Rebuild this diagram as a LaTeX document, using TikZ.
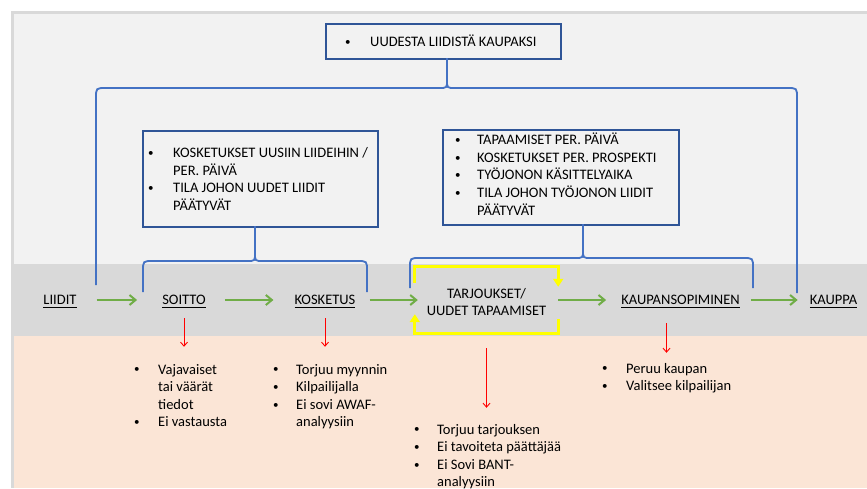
\documentclass[tikz,border=0pt]{standalone}
\usepackage{fontspec}
\setmainfont{Carlito}
\usetikzlibrary{arrows.meta}

\definecolor{bgtop}{HTML}{F2F2F2}
\definecolor{band}{HTML}{D9D9D9}
\definecolor{peach}{HTML}{FBE5D6}
\definecolor{boxblue}{HTML}{2F5597}
\definecolor{braceblue}{HTML}{4472C4}
\definecolor{flowgreen}{HTML}{70AD47}
\definecolor{failred}{HTML}{FF0000}
\definecolor{loopyellow}{HTML}{FFFF00}

% underlined stage label
\newcommand\undl[1]{\setbox0\hbox{#1}\rlap{\rule[-3.4pt]{\wd0}{1.1pt}}\box0}
% small list bullet
\newcommand\bul{\raisebox{1.2pt}{\fontsize{11}{11}\selectfont •}}

% curly brace: left x, right x, bar y, tip x, stem top y, left foot y, right foot y
\newcommand\hbrc[7]{%
  \draw[brace] (#1,#6) -- (#1,#3+10) .. controls (#1,#3) .. (#1+10,#3)
     -- (#4-8,#3) .. controls (#4,#3) .. (#4,#3-8) -- (#4,#5);
  \draw[brace] (#2,#7) -- (#2,#3+10) .. controls (#2,#3) .. (#2-10,#3)
     -- (#4+8,#3) .. controls (#4,#3) .. (#4,#3-8);
}

\begin{document}
\begin{tikzpicture}[x=1pt,y=-1pt,
  every node/.style={font=\fontsize{14.5}{17.6}\selectfont, inner sep=0pt, text=black},
  metricbox/.style={draw=boxblue, line width=2pt, anchor=north west},
  stage/.style={text height=9.4pt, text depth=0pt},
  bullets/.style={anchor=base west},
  flow/.style={draw=flowgreen, line width=2pt, -{Straight Barb[length=6pt,width=10pt]}},
  fail/.style={draw=failred, line width=0.9pt, -{Straight Barb[length=4pt,width=7pt]}},
  loop/.style={draw=loopyellow, line width=3pt, -{Triangle[length=8pt,width=10pt]}},
  brace/.style={draw=braceblue, line width=1.8pt},
]
% background frame and bands
\fill[white] (0,0) rectangle (867,488);
\fill[band] (11,11) rectangle (867,488);
\fill[bgtop] (14,14) rectangle (867,264);
\fill[band] (14,264) rectangle (867,336);
\fill[peach] (14,336) rectangle (867,488);
\useasboundingbox (0,0) rectangle (867,488);

% metric boxes
\node[metricbox, line width=2.4pt, minimum width=235pt, minimum height=35pt] (goal) at (325,23) {};
\node[bullets] (goaltxt) at (345,46.5)
  {\begin{tabular}[t]{@{}p{25pt}@{}l@{}}\bul&UUDESTA LIIDISTÄ KAUPAKSI\end{tabular}};

\node[metricbox, minimum width=235pt, minimum height=96pt] (boxB) at (142,130) {};
\node[bullets] (txtB) at (148,157.7)
  {\begin{tabular}[t]{@{}p{25pt}@{}l@{}}
   \bul&KOSKETUKSET UUSIIN LIIDEIHIN /\\
    &PER. PÄIVÄ\\
   \bul&TILA JOHON UUDET LIIDIT\\
    &PÄÄTYVÄT
   \end{tabular}};

\node[metricbox, minimum width=236pt, minimum height=95pt] (boxC) at (442,129) {};
\node[bullets] (txtC) at (455,144.7)
  {\begin{tabular}[t]{@{}p{22pt}@{}l@{}}
   \bul&TAPAAMISET PER. PÄIVÄ\\
   \bul&KOSKETUKSET PER. PROSPEKTI\\
   \bul&TYÖJONON KÄSITTELYAIKA\\
   \bul&TILA JOHON TYÖJONON LIIDIT\\
    &PÄÄTYVÄT
   \end{tabular}};

% braces
\hbrc{96}{797}{88}{447}{58}{285}{293}
\hbrc{143}{367}{261}{255}{226}{292}{292}
\hbrc{410}{753}{258}{583}{224}{288}{288}

% stages
\node[stage] (liidit) at (60,300) {\undl{LIIDIT}};
\node[stage] (soitto) at (184,300) {\undl{SOITTO}};
\node[stage] (kosketus) at (325,300) {\undl{KOSKETUS}};
\node[minimum width=143pt, minimum height=66pt] (tarjous) at (486.5,300) {};
\node[align=center] (tarjtxt) at (486.5,302) {TARJOUKSET/\\UUDET TAPAAMISET};
\node[stage] (kaupso) at (680.5,300) {\undl{KAUPANSOPIMINEN}};
\node[stage] (kauppa) at (833.5,300) {\undl{KAUPPA}};

% flow arrows
\draw[flow, shorten <=20pt, shorten >=25pt] (liidit.east) -- (soitto.west);
\draw[flow, shorten <=19pt, shorten >=21pt] (soitto.east) -- (kosketus.west);
\draw[flow, shorten <=14pt, shorten >=-3pt] (kosketus.east) -- (kosketus.east -| tarjous.west);
\draw[flow, shorten <=0pt, shorten >=15pt] (kaupso.west -| tarjous.east) -- (kaupso.west);
\draw[flow, shorten <=11pt, shorten >=12pt] (kaupso.east) -- (kauppa.west);

% yellow loop round the offer stage
\draw[loop] ([yshift=-16pt]tarjous.north west) -- (tarjous.north west) -- (tarjous.north east) -- ([yshift=-20pt]tarjous.north east);
\draw[loop] ([yshift=14pt]tarjous.south east) -- (tarjous.south east) -- (tarjous.south west) -- ([yshift=19pt]tarjous.south west);

% drop-out lists
\node[bullets] (l1) at (134,374)
  {\begin{tabular}[t]{@{}p{24pt}@{}l@{}}\bul&Vajavaiset\\&tai väärät\\&tiedot\\\bul&Ei vastausta\end{tabular}};
\node[bullets] (l2) at (273,374)
  {\begin{tabular}[t]{@{}p{23pt}@{}l@{}}\bul&Torjuu myynnin\\\bul&Kilpailijalla\\\bul&Ei sovi AWAF-\\&analyysiin\end{tabular}};
\node[bullets] (l3) at (414,434)
  {\begin{tabular}[t]{@{}p{23pt}@{}l@{}}\bul&Torjuu tarjouksen\\\bul&Ei tavoiteta päättäjää\\\bul&Ei Sovi BANT-\\&analyysiin\end{tabular}};
\node[bullets] (l4) at (602,373)
  {\begin{tabular}[t]{@{}p{24pt}@{}l@{}}\bul&Peruu kaupan\\\bul&Valitsee kilpailijan\end{tabular}};

% drop-out arrows
\draw[fail, shorten <=13.3pt, shorten >=14.7pt] (soitto.south) -- (soitto.south |- l1.north);
\draw[fail, shorten <=13.3pt, shorten >=14.7pt] (kosketus.south) -- (kosketus.south |- l2.north);
\draw[fail, shorten <=15pt, shorten >=13.7pt] (tarjous.south) -- (tarjous.south |- l3.north);
\draw[fail, shorten <=18.3pt, shorten >=7.7pt] ([xshift=-14pt]kaupso.south) -- ([xshift=-14pt]kaupso.south |- l4.north);
\end{tikzpicture}
\end{document}
